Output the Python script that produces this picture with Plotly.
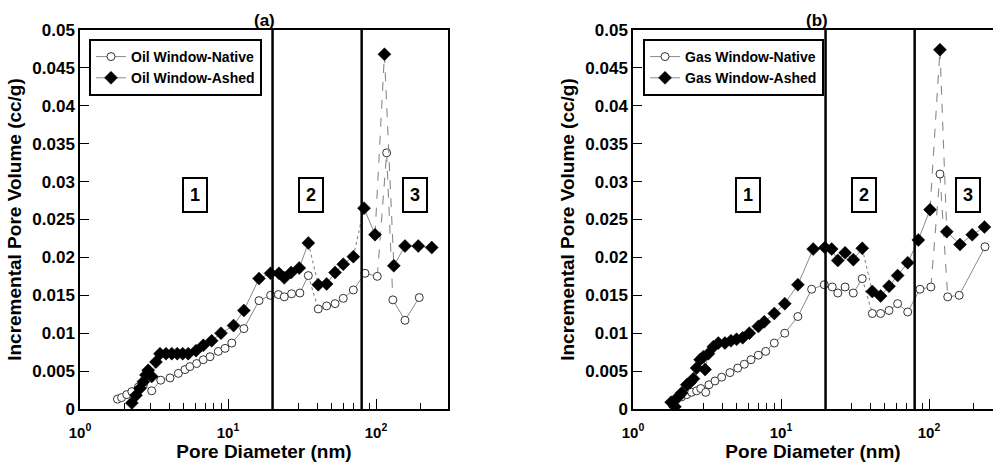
import math
import plotly.graph_objects as go

# Pore diameter (nm) and incremental pore volume (cc/g)
oil_native_d = [1.79, 1.91, 2.07, 2.24, 2.48, 2.68, 3.05, 3.51, 4.06, 4.62, 5.12, 5.53, 6.14, 6.81,
                7.56, 8.6, 9.55, 10.6, 12.8, 16.2, 19.4, 21.9, 24.0, 26.9, 30.6, 34.9, 40.7, 46.4,
                52.9, 60.1, 70.3, 84.3, 102, 118, 130, 157, 196]
oil_native_v = [0.0013, 0.0015, 0.0019, 0.0023, 0.0029, 0.0032, 0.0024, 0.0038, 0.0041, 0.0047,
                0.0052, 0.0056, 0.0060, 0.0065, 0.0069, 0.0076, 0.0080, 0.0087, 0.0106, 0.0143,
                0.0150, 0.0151, 0.0148, 0.0152, 0.0153, 0.0176, 0.0132, 0.0136, 0.0139, 0.0146,
                0.0157, 0.0179, 0.0175, 0.0338, 0.0144, 0.0117, 0.0147]

oil_ashed_d = [2.24, 2.39, 2.54, 2.68, 2.79, 2.89, 3.05, 3.26, 3.47, 3.81, 4.17, 4.54, 4.94, 5.39,
               6.08, 6.81, 7.76, 8.97, 10.9, 12.8, 16.2, 19.4, 22.1, 24.0, 26.7, 30.3, 34.9, 40.7,
               46.4, 52.9, 60.1, 70.3, 83.0, 98.5, 114, 132, 157, 193, 238]
oil_ashed_v = [0.0008, 0.0018, 0.0027, 0.0036, 0.0045, 0.0051, 0.0043, 0.0062, 0.0073, 0.0073,
               0.0073, 0.0073, 0.0073, 0.0073, 0.0077, 0.0084, 0.0090, 0.0100, 0.0110, 0.0130,
               0.0172, 0.0179, 0.0179, 0.0173, 0.0180, 0.0186, 0.0219, 0.0164, 0.0165, 0.0180,
               0.0191, 0.0201, 0.0265, 0.0230, 0.0468, 0.0189, 0.0215, 0.0215, 0.0213]

gas_native_d = [1.83, 1.97, 2.13, 2.31, 2.49, 2.69, 2.87, 3.10, 3.26, 3.58, 3.97, 4.52, 5.10, 5.65,
                6.27, 7.03, 7.88, 9.01, 10.6, 13.0, 16.1, 19.6, 22.2, 24.2, 27.1, 30.8, 35.4, 41.4,
                47.1, 53.7, 61.4, 71.8, 86.9, 103, 118.6, 133.8, 160, 239]
gas_native_v = [0.0009, 0.0013, 0.0016, 0.0019, 0.0022, 0.0024, 0.0027, 0.0022, 0.0032, 0.0037,
                0.0042, 0.0048, 0.0054, 0.0059, 0.0065, 0.0071, 0.0076, 0.0087, 0.0100, 0.0122,
                0.0158, 0.0164, 0.0161, 0.0153, 0.0161, 0.0153, 0.0172, 0.0126, 0.0126, 0.0130,
                0.0139, 0.0128, 0.0158, 0.0161, 0.0310, 0.0148, 0.0150, 0.0214]

gas_ashed_d = [1.81, 1.92, 2.02, 2.13, 2.31, 2.43, 2.56, 2.69, 2.84, 2.99, 3.07, 3.23, 3.49, 3.77,
               4.18, 4.59, 5.01, 5.51, 6.11, 7.03, 7.71, 9.01, 10.6, 13.0, 16.5, 19.8, 22.0, 24.2,
               27.1, 30.8, 35.4, 41.4, 47.1, 53.7, 61.4, 71.8, 84.7, 101.6, 118.6, 131.8, 162,
               196, 237]
gas_ashed_v = [0.0009, 0.0003, 0.0016, 0.0021, 0.0032, 0.0035, 0.0040, 0.0054, 0.0065, 0.0069,
               0.0052, 0.0073, 0.0082, 0.0087, 0.0087, 0.0090, 0.0092, 0.0094, 0.0100, 0.0109,
               0.0115, 0.0126, 0.0139, 0.0164, 0.0211, 0.0213, 0.0211, 0.0196, 0.0206, 0.0197,
               0.0212, 0.0155, 0.0149, 0.0162, 0.0176, 0.0193, 0.0223, 0.0263, 0.0474, 0.0234,
               0.0217, 0.0230, 0.0240]

# Pore-size region boundaries (nm) and region labels
region_bounds = [20, 80]
region_labels = ["1", "2", "3"]
region_centres = [6.0, 36.5, 184]
region_label_v = 0.0282

x_tick_vals = [1, 10, 100]
x_tick_text = ["10<sup>0</sup>", "10<sup>1</sup>", "10<sup>2</sup>"]
panel_titles = ["(a)", "(b)"]

W, H = 993, 464
FONT = "Liberation Sans, Arial, sans-serif"
LINE_GRAY = "#8a8a8a"

fig = go.Figure()

# segment styles (index of segment start -> dash)
oil_native_seg = {25: "dot", 32: "dash", 33: "dash"}
oil_ashed_seg = {26: "dot", 31: "dot", 33: "dash", 34: "dash"}
gas_native_seg = {26: "dot", 33: "dash", 34: "dash"}
gas_ashed_seg = {30: "dot", 37: "dash", 38: "dash"}

CIRCLE = dict(symbol="circle", size=8, color="white", line=dict(color="#333333", width=1))
DIAMOND = dict(symbol="diamond", size=10, color="black", line=dict(color="black", width=0.5))


def add_series(xa, ya, d, v, seg, name, marker, legend):
    for i, dash in seg.items():
        fig.add_trace(go.Scatter(
            x=[d[i], d[i + 1]], y=[v[i], v[i + 1]], mode="lines",
            line=dict(color=LINE_GRAY, width=1.1, dash=dash),
            xaxis=xa, yaxis=ya, showlegend=False, hoverinfo="skip"))
    xs, ys = [], []
    for i in range(len(d)):
        xs.append(d[i])
        ys.append(v[i])
        if i in seg:
            xs.append(None)
            ys.append(None)
    fig.add_trace(go.Scatter(
        x=xs, y=ys, mode="lines+markers", name=name, connectgaps=False,
        line=dict(color=LINE_GRAY, width=1), marker=marker,
        xaxis=xa, yaxis=ya, legend=legend))


add_series("x", "y", oil_native_d, oil_native_v, oil_native_seg, "Oil Window-Native", CIRCLE, "legend")
add_series("x", "y", oil_ashed_d, oil_ashed_v, oil_ashed_seg, "Oil Window-Ashed", DIAMOND, "legend")
add_series("x2", "y2", gas_native_d, gas_native_v, gas_native_seg, "Gas Window-Native", CIRCLE, "legend2")
add_series("x2", "y2", gas_ashed_d, gas_ashed_v, gas_ashed_seg, "Gas Window-Ashed", DIAMOND, "legend2")

x_tick_font = dict(family=FONT, size=15, color="black", weight="bold")
y_tick_font = dict(family=FONT, size=17, color="black", weight="bold")
title_font = dict(family=FONT, size=19, color="black", weight="bold")
minor_vals = [2, 3, 4, 5, 6, 7, 8, 9, 20, 30, 40, 50, 60, 70, 80, 90, 200]

y_dom = [1 - 409 / H, 1 - 30 / H]
decade_px = 148.0


def x_axis(domain, rng, anchor):
    return dict(
        type="log", domain=domain, range=rng, anchor=anchor, automargin=False,
        showline=True, linecolor="black", linewidth=1.5, mirror=True,
        ticks="inside", ticklen=10, tickwidth=1.2, tickcolor="black",
        tickmode="array", tickvals=x_tick_vals, ticktext=x_tick_text,
        tickfont=x_tick_font, showgrid=False, zeroline=False, ticklabelstandoff=9,
        minor=dict(ticks="inside", ticklen=6, tickwidth=1.2, tickcolor="black",
                   tickmode="array", tickvals=minor_vals, showgrid=False),
        title=dict(text="Pore Diameter (nm)", font=title_font, standoff=4),
    )


def y_axis(anchor):
    return dict(
        domain=y_dom, range=[0, 0.05], dtick=0.005, tick0=0, anchor=anchor, automargin=False,
        showline=True, linecolor="black", linewidth=1.5, mirror=True,
        ticks="inside", ticklen=9, tickwidth=1.2, tickcolor="black",
        tickfont=y_tick_font, showgrid=False, zeroline=False,
        title=dict(text="Incremental Pore Volume (cc/g)", font=title_font, standoff=6),
    )


left_px, right_px = 80, 448
right_left_px = 633
LEG_FONT = dict(family=FONT, size=14, color="black", weight="bold")
fig.update_layout(
    width=W, height=H,
    margin=dict(l=0, r=0, t=0, b=0, autoexpand=False),
    paper_bgcolor="white", plot_bgcolor="white",
    font=dict(family=FONT, color="black"),
    xaxis=x_axis([left_px / W, right_px / W], [0, (right_px - left_px) / decade_px], "y"),
    yaxis=y_axis("x"),
    xaxis2=x_axis([right_left_px / W, 1.0], [0, (W - right_left_px) / decade_px], "y2"),
    yaxis2=y_axis("x2"),
    legend=dict(x=89 / W, y=1 - 39 / H, xanchor="left", yanchor="top",
                bordercolor="black", borderwidth=2, bgcolor="white", font=LEG_FONT,
                tracegroupgap=0, itemwidth=30),
    legend2=dict(x=643 / W, y=1 - 39 / H, xanchor="left", yanchor="top",
                 bordercolor="black", borderwidth=2, bgcolor="white", font=LEG_FONT,
                 tracegroupgap=0, itemwidth=30),
)

shapes = []
annotations = []
for xr, yr, title in (("x", "y", panel_titles[0]), ("x2", "y2", panel_titles[1])):
    for b in region_bounds:
        shapes.append(dict(type="line", xref=xr, yref=yr + " domain", x0=b, x1=b, y0=0, y1=1,
                           line=dict(color="black", width=2.5)))
    for lab, c in zip(region_labels, region_centres):
        annotations.append(dict(
            text=lab, xref=xr, yref=yr, x=math.log10(c), y=region_label_v,
            showarrow=False, width=20, height=30, borderpad=1,
            bordercolor="black", borderwidth=2, bgcolor="white",
            font=dict(family=FONT, size=18, color="black", weight="bold")))
    annotations.append(dict(
        text=title, xref=xr + " domain", yref="paper",
        x=0.5 if xr == "x" else 0.5 * (1000 - 633) / (W - 633),
        y=1 - 30 / H, xanchor="center", yanchor="bottom", showarrow=False, yshift=-2,
        font=dict(family=FONT, size=17, color="black", weight="bold")))

fig.update_layout(shapes=shapes, annotations=annotations)

fig.write_html("out.html")
